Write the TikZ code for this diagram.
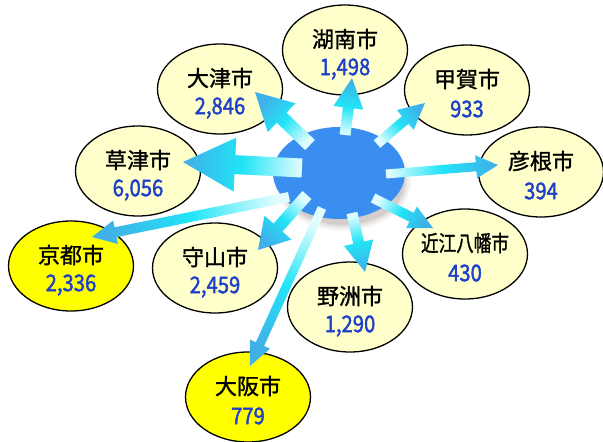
\documentclass[tikz,border=0pt]{standalone}
\usepackage{fontspec}
\newfontfamily\jp[FakeBold=1.3]{Noto Sans CJK JP}
\newfontfamily\jpnum[FakeBold=1.6,FakeStretch=0.88]{Noto Sans CJK JP}
\usetikzlibrary{shapes.geometric,calc}
\definecolor{cream}{HTML}{FFFFCC}
\definecolor{yel}{HTML}{FFFF00}
\definecolor{numblue}{HTML}{1E40C8}
\definecolor{hubblue}{HTML}{3A8EF0}
\definecolor{arrowstart}{HTML}{E0FCFF}
\definecolor{arrowmid}{HTML}{22E4F6}
\definecolor{arrowend}{HTML}{3FB0E8}
\definecolor{shadowc}{HTML}{6A5A50}
\newcommand\fatarrow[5]{%
  \pgfmathanglebetweenpoints{\pgfpointanchor{#1}{center}}{\pgfpointanchor{#2}{center}}%
  \pgfmathsetmacro\farang{\pgfmathresult-90}%
  \coordinate (fa-h) at ($(#2)!#5pt!(#1)$);
  \shade[top color=arrowend, bottom color=arrowstart, middle color=arrowmid, shading angle=\farang]
    ($(#1)!#3pt!90:(#2)$) -- ($(fa-h)!#3pt!90:(#2)$) -- ($(fa-h)!#4pt!90:(#2)$) -- (#2)
    -- ($(fa-h)!#4pt!-90:(#2)$) -- ($(fa-h)!#3pt!-90:(#2)$) -- ($(#1)!#3pt!-90:(#2)$) -- cycle;
}
\begin{document}
\begin{tikzpicture}[x=1pt,y=-1pt,
  city/.style={ellipse, draw=black, line width=1.3pt, fill=cream, inner sep=0pt, minimum width=125pt, minimum height=90pt},
  big/.style={city, fill=yel},
  cname/.style={font=\jp\fontsize{22}{22}\selectfont, inner sep=0pt},
  cnum/.style={font=\jpnum\fontsize{23}{23}\selectfont, text=numblue, inner sep=0pt}]
\useasboundingbox (0,0) rectangle (603,442);
% cities
\node[city] (konan) at (345,50) {};
\node[city] (otsu) at (220,89) {};
\node[city] (koka) at (467,90) {};
\node[city] (kusatsu) at (138,171) {};
\node[city] (hikone) at (541,172) {};
\node[city] (omi) at (465,254) {};
\node[big] (kyoto) at (71,266) {};
\node[city] (moriyama) at (215,268) {};
\node[city] (yasu) at (350,307) {};
\node[big] (osaka) at (248,397) {};
% labels
\foreach \c/\n/\v in {konan/湖南市/{1,498}, otsu/大津市/{2,846}, koka/甲賀市/933, kusatsu/草津市/{6,056},
  hikone/彦根市/394, kyoto/京都市/{2,336}, moriyama/守山市/{2,459}, yasu/野洲市/{1,290}, osaka/大阪市/779}{
  \node[cname] (\c-n) at ([yshift=11pt]\c.center) {\n};
  \node[cnum] (\c-v) at ([yshift=-19pt]\c.center) {\v};
}
\node[cname] (omi-n) at ([yshift=11pt]omi.center) {\scalebox{0.8}[1]{近江八幡市}};
\node[cnum] (omi-v) at ([yshift=-19pt]omi.center) {430};
% hub with soft shadow
\foreach \k/\o in {5/0.05,3/0.07,1/0.09,-1/0.12}{
  \fill[shadowc, opacity=\o] (343,182) ellipse ({63+\k} and {44+\k});
}
\node[ellipse, fill=hubblue, inner sep=0pt, minimum width=132pt, minimum height=92pt] (hub) at (339,173) {};
% arrow ends
\coordinate (s-konan) at (345,135);   \coordinate (t-konan) at (352,78);
\coordinate (s-koka) at (377,144);    \coordinate (t-koka) at (425,103);
\coordinate (s-otsu) at (310,145);    \coordinate (t-otsu) at (255,92);
\coordinate (s-kusatsu) at (302,168); \coordinate (t-kusatsu) at (183,162);
\coordinate (s-hikone) at (386,174);  \coordinate (t-hikone) at (498,165);
\coordinate (s-omi) at (373,198);     \coordinate (t-omi) at (433,228);
\coordinate (s-kyoto) at (289,197);   \coordinate (t-kyoto) at (92,237);
\coordinate (s-moriyama) at (307,195);\coordinate (t-moriyama) at (258,250);
\coordinate (s-osaka) at (322,208);   \coordinate (t-osaka) at (250,366);
\coordinate (s-yasu) at (352,213);    \coordinate (t-yasu) at (365,272);
\fatarrow{s-konan}{t-konan}{5.5}{15}{30}
\fatarrow{s-koka}{t-koka}{5}{13}{26}
\fatarrow{s-otsu}{t-otsu}{7}{20}{37}
\fatarrow{s-kusatsu}{t-kusatsu}{9.5}{27}{52}
\fatarrow{s-hikone}{t-hikone}{4.5}{11.5}{22}
\fatarrow{s-omi}{t-omi}{5}{12}{24}
\fatarrow{s-kyoto}{t-kyoto}{5}{12}{24}
\fatarrow{s-moriyama}{t-moriyama}{6}{18}{30}
\fatarrow{s-osaka}{t-osaka}{4.5}{11}{24}
\fatarrow{s-yasu}{t-yasu}{5.5}{15}{30}
\end{tikzpicture}
\end{document}
